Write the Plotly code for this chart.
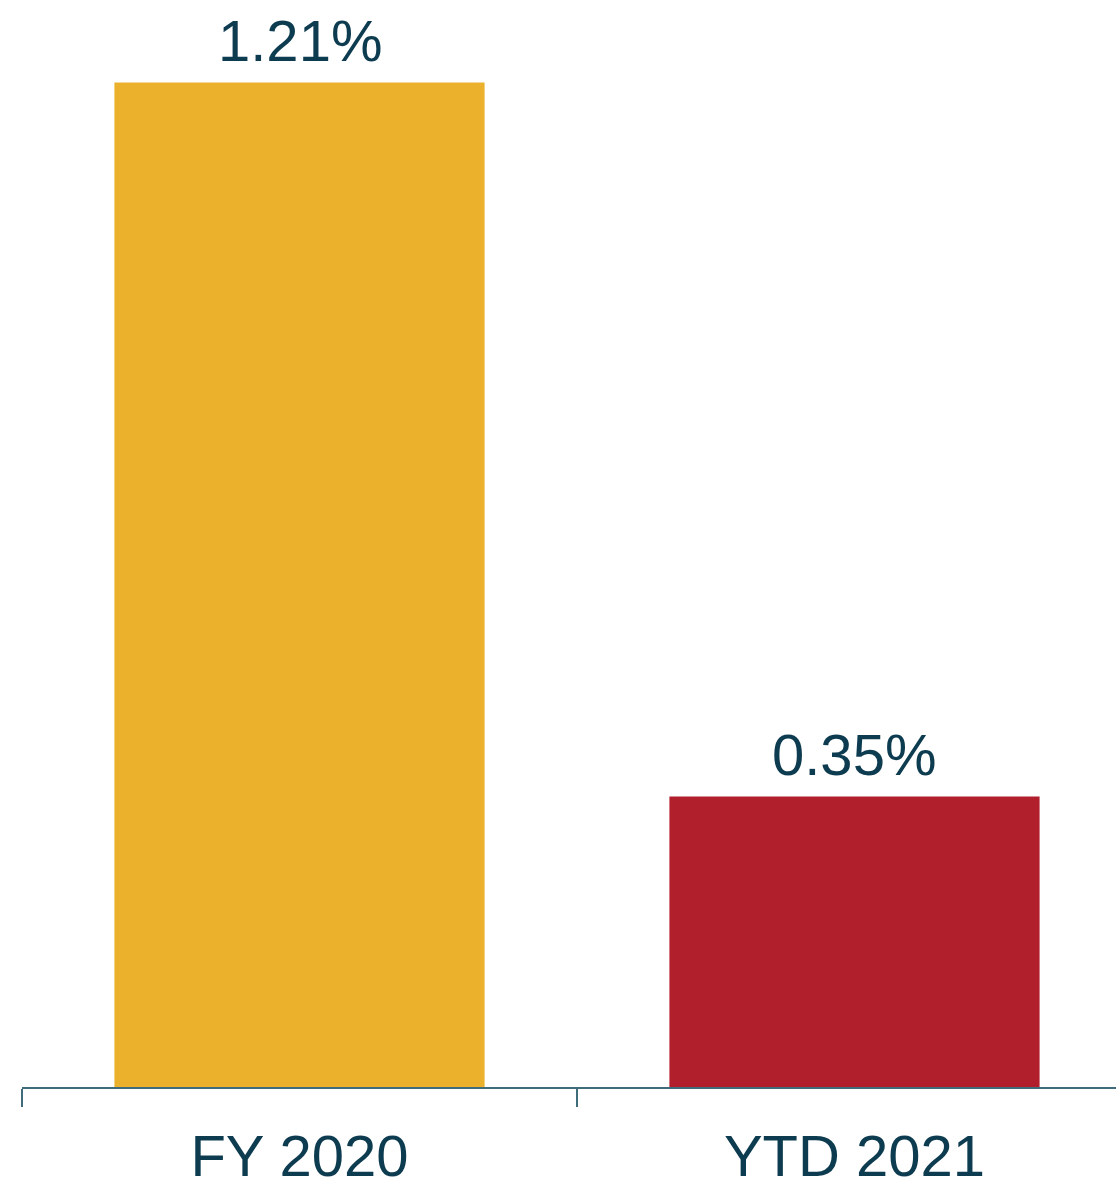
import plotly.graph_objects as go

categories = ["FY 2020", "YTD 2021"]
values = [1.21, 0.35]
labels = ["1.21%", "0.35%"]
colors = ["#EBB12D", "#B11F2C"]

TEXT = "#0D3B4F"
AXIS = "#3F6B7A"
FONT = "Liberation Sans, Arial, sans-serif"

fig = go.Figure()
fig.add_trace(go.Bar(
    x=categories,
    y=values,
    width=0.667,
    marker=dict(color=colors, line=dict(width=0)),
    hoverinfo="skip",
))

# value labels above the bars
for cat, val, lab in zip(categories, values, labels):
    fig.add_annotation(
        x=cat, y=val, text=lab, showarrow=False,
        yanchor="bottom", yshift=7,
        font=dict(size=58, color=TEXT, family=FONT),
    )

fig.update_layout(
    width=1116,
    height=1188,
    margin=dict(l=22, r=0, t=0, b=101),
    paper_bgcolor="white",
    plot_bgcolor="white",
    showlegend=False,
    font=dict(family=FONT, color=TEXT),
    xaxis=dict(
        type="category",
        range=[-0.5, 1.4712],
        showline=True,
        linecolor=AXIS,
        linewidth=2,
        ticks="outside",
        tickson="boundaries",
        ticklen=18,
        tickwidth=2,
        tickcolor=AXIS,
        ticklabelstandoff=17,
        tickfont=dict(size=58, color=TEXT),
        showgrid=False,
        zeroline=False,
    ),
    yaxis=dict(
        range=[0, 1.3093],
        visible=False,
        showgrid=False,
        zeroline=False,
    ),
)

# drop the default page margin so the figure sits at the window's corner
fig.write_html(
    "out.html",
    config={"displayModeBar": False},
    post_script="document.body.style.margin='0';",
)
